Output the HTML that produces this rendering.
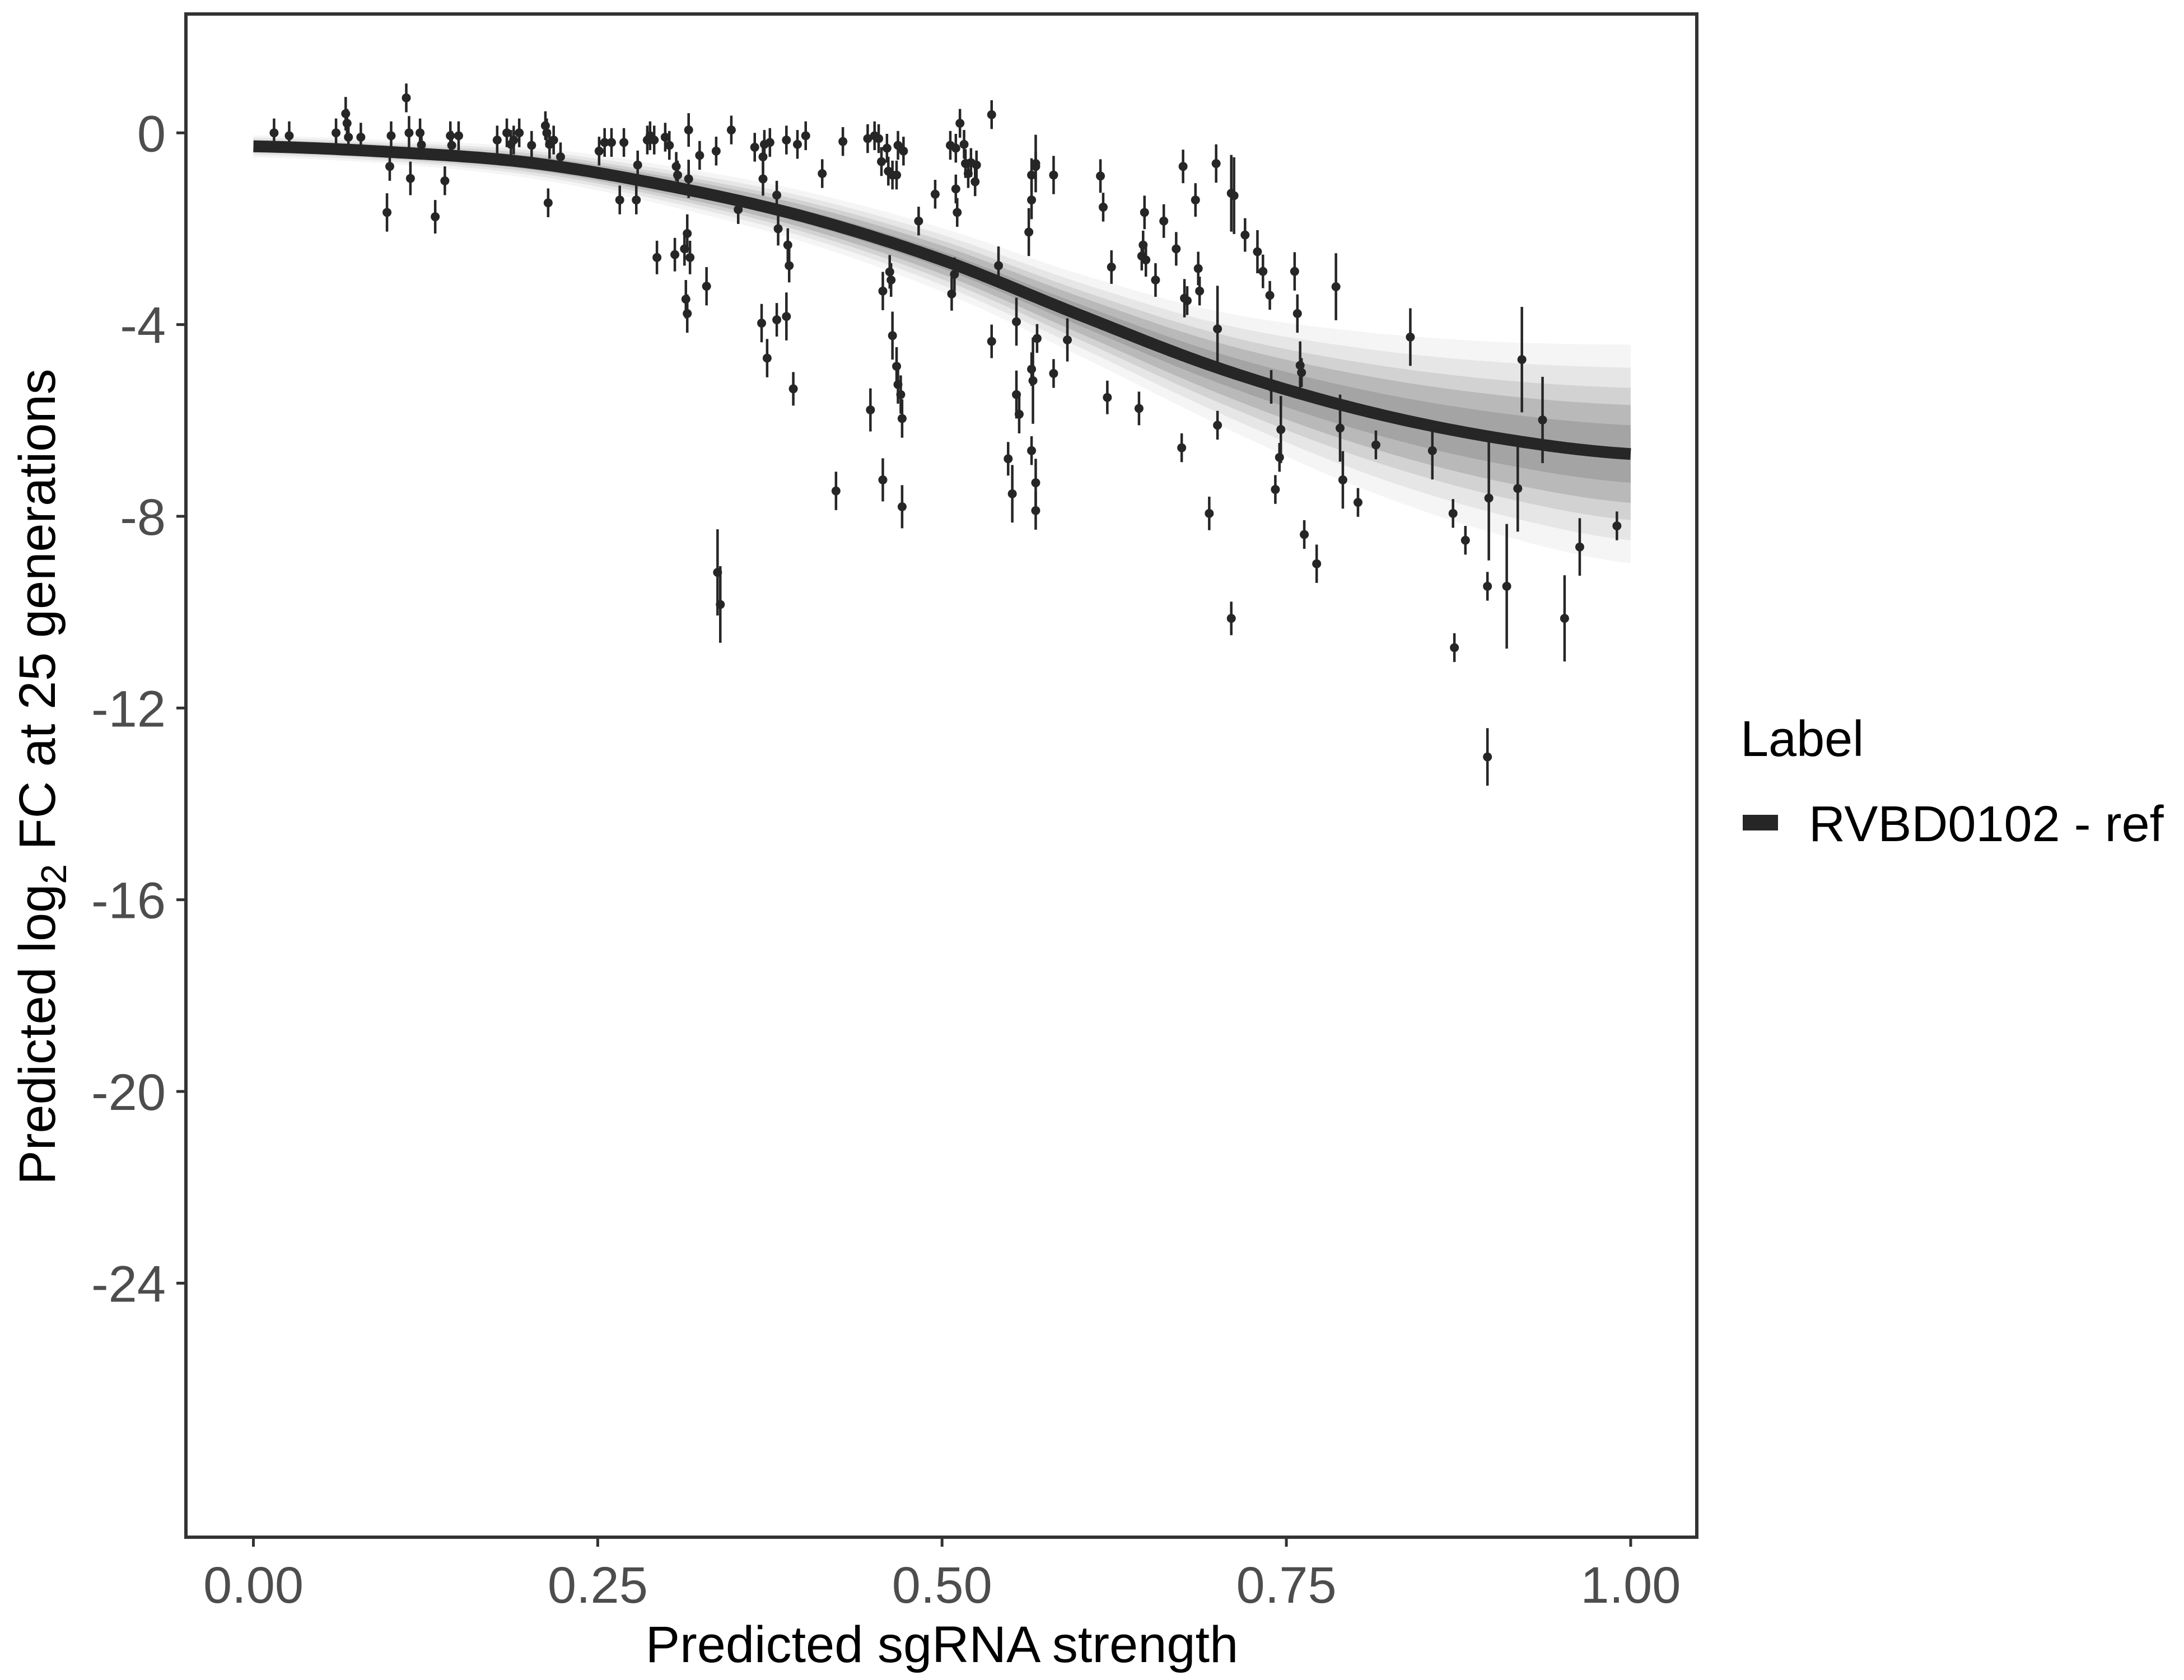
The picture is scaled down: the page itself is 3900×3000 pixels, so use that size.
<!DOCTYPE html>
<html><head><meta charset="utf-8"><style>
html,body{margin:0;padding:0;background:#fff;}
svg{display:block;font-family:"Liberation Sans",Arial,sans-serif;}
</style></head><body>
<svg id="chart" width="3900" height="3000" viewBox="0 0 3900 3000" xmlns="http://www.w3.org/2000/svg">
<rect x="0" y="0" width="3900" height="3000" fill="#fff"/>
<g id="band"></g>
<g id="points"></g>
<g id="curve"></g>
<rect x="332" y="25" width="2698" height="2720" fill="none" stroke="#333" stroke-width="6"/>
<g id="axes"></g>
<text x="1682" y="2968" font-size="92" text-anchor="middle" fill="#000">Predicted sgRNA strength</text>
<text transform="translate(98,1387) rotate(-90)" font-size="92" text-anchor="middle" fill="#000">Predicted  log<tspan font-size="64" dy="20">2</tspan><tspan dy="-20"> FC at 25 generations</tspan></text>
<text x="3108" y="1350" font-size="90" fill="#000">Label</text>
<rect x="3112" y="1455" width="63" height="28" fill="#262626"/>
<text x="3230" y="1502" font-size="90" fill="#000">RVBD0102 - ref</text>
</svg>
<script>
const xTicks=[0,0.25,0.5,0.75,1.0];
const xTickLabels=["0.00","0.25","0.50","0.75","1.00"];
const yTicks=[0,-4,-8,-12,-16,-20,-24];
const yTickLabels=["0","-4","-8","-12","-16","-20","-24"];
const curveX=[0,0.1,0.2,0.3,0.4,0.5,0.6,0.7,0.8,0.9,1.0];
const curveY=[-0.28,-0.4,-0.62,-1.1,-1.75,-2.65,-3.8,-4.9,-5.75,-6.35,-6.7];
const bandHalf=[0.12,0.13,0.17,0.22,0.28,0.35,0.45,0.62,0.85,1.05,1.2];
const ptX=[0.015,0.026,0.06,0.067,0.068,0.069,0.078,0.097,0.099,0.1,0.111,0.113,0.114,0.121,0.122,0.132,0.139,0.143,0.144,0.149,0.177,0.184,0.187,0.189,0.193,0.202,0.212,0.213,0.214,0.215,0.218,0.223,0.251,0.255,0.26,0.266,0.269,0.278,0.279,0.286,0.293,0.288,0.291,0.299,0.302,0.306,0.307,0.308,0.313,0.314,0.315,0.315,0.316,0.316,0.317,0.324,0.329,0.336,0.337,0.339,0.347,0.352,0.364,0.369,0.37,0.37,0.371,0.373,0.375,0.38,0.38,0.381,0.387,0.387,0.388,0.389,0.392,0.395,0.401,0.413,0.423,0.428,0.446,0.448,0.451,0.454,0.456,0.457,0.457,0.46,0.461,0.462,0.463,0.464,0.464,0.467,0.467,0.468,0.468,0.47,0.471,0.471,0.472,0.483,0.495,0.506,0.507,0.509,0.51,0.51,0.511,0.513,0.516,0.517,0.519,0.521,0.524,0.525,0.536,0.536,0.541,0.548,0.551,0.554,0.554,0.556,0.563,0.565,0.565,0.565,0.565,0.566,0.568,0.568,0.568,0.568,0.569,0.581,0.581,0.591,0.615,0.617,0.62,0.623,0.643,0.645,0.646,0.647,0.648,0.655,0.661,0.67,0.674,0.675,0.676,0.678,0.684,0.686,0.687,0.694,0.699,0.7,0.7,0.712,0.71,0.71,0.72,0.729,0.733,0.738,0.739,0.742,0.745,0.746,0.756,0.758,0.76,0.761,0.763,0.772,0.786,0.789,0.791,0.802,0.815,0.84,0.856,0.871,0.872,0.88,0.896,0.896,0.897,0.91,0.918,0.921,0.936,0.952,0.963,0.99];
const ptY=[0,-0.06,0,0.4,0.2,-0.09,-0.09,-1.66,-0.7,-0.06,0.73,0,-0.95,0,-0.25,-1.75,-1.0,-0.06,-0.26,-0.06,-0.15,0.0,-0.24,-0.15,0,-0.26,0.15,0.0,-1.46,-0.24,-0.15,-0.5,-0.38,-0.2,-0.2,-1.4,-0.2,-1.4,-0.67,-0.15,-2.6,-0.06,-0.15,-0.09,-0.26,-2.54,-0.7,-0.88,-2.42,-3.47,-2.1,-3.77,0.06,-0.96,-2.6,-0.47,-3.2,-0.38,-9.17,-9.84,0.06,-1.6,-0.3,-3.97,-0.96,-0.5,-0.24,-4.7,-0.2,-1.3,-3.9,-2.0,-0.15,-3.83,-2.34,-2.77,-5.34,-0.24,-0.06,-0.85,-7.47,-0.18,-0.12,-5.78,-0.06,-0.12,-0.6,-3.3,-7.24,-0.32,-0.8,-2.9,-3.07,-4.23,-0.88,-0.88,-4.87,-0.26,-5.25,-5.46,-5.96,-7.8,-0.38,-1.84,-1.28,-0.26,-3.36,-2.95,-1.17,-0.32,-1.66,0.2,-0.24,-0.64,-0.85,-0.62,-1.02,-0.67,0.38,-4.35,-2.77,-6.8,-7.53,-5.46,-3.94,-5.87,-2.07,-4.93,-1.4,-0.88,-6.63,-5.17,-7.88,-7.3,-0.64,-0.7,-4.29,-0.88,-5.02,-4.32,-0.9,-1.55,-5.52,-2.8,-5.75,-2.57,-2.34,-1.66,-2.65,-3.07,-1.84,-2.42,-6.57,-0.7,-3.45,-3.5,-1.4,-2.83,-3.3,-7.94,-0.64,-4.09,-6.1,-1.31,-1.26,-10.13,-2.13,-2.48,-2.89,-3.39,-5.3,-7.44,-6.77,-6.19,-2.89,-3.77,-4.85,-5.0,-8.38,-8.99,-3.21,-6.16,-7.24,-7.71,-6.51,-4.26,-6.63,-7.94,-10.74,-8.5,-9.46,-13.02,-7.62,-9.46,-7.42,-4.73,-5.99,-10.13,-8.64,-8.2];
const ptErr=[0.3,0.3,0.3,0.35,0.3,0.3,0.3,0.4,0.3,0.3,0.3,0.35,0.35,0.3,0.3,0.35,0.3,0.3,0.3,0.3,0.3,0.3,0.3,0.3,0.3,0.3,0.3,0.3,0.3,0.3,0.3,0.3,0.3,0.3,0.3,0.3,0.3,0.3,0.3,0.3,0.35,0.3,0.3,0.3,0.3,0.35,0.3,0.3,0.35,0.4,0.4,0.4,0.35,0.4,0.35,0.3,0.4,0.3,0.9,0.8,0.3,0.3,0.3,0.4,0.35,0.3,0.3,0.4,0.3,0.3,0.35,0.35,0.3,0.5,0.35,0.35,0.35,0.3,0.3,0.3,0.4,0.3,0.3,0.45,0.3,0.3,0.3,0.4,0.45,0.3,0.3,0.35,0.35,0.5,0.3,0.3,0.4,0.3,0.4,0.4,0.4,0.45,0.3,0.3,0.3,0.3,0.35,0.35,0.3,0.3,0.3,0.3,0.3,0.3,0.3,0.3,0.3,0.3,0.3,0.35,0.4,0.35,0.6,0.5,0.5,0.4,0.5,0.35,0.4,0.35,0.3,0.9,0.4,0.5,0.6,0.3,0.3,0.4,0.3,0.45,0.35,0.3,0.35,0.35,0.35,0.3,0.3,0.35,0.35,0.35,0.35,0.35,0.3,0.35,0.4,0.3,0.35,0.35,0.3,0.35,0.4,0.9,0.3,0.8,0.8,0.35,0.35,0.45,0.35,0.3,0.35,0.3,0.3,0.7,0.4,0.4,0.5,0.3,0.3,0.4,0.7,0.7,0.6,0.3,0.3,0.6,0.6,0.3,0.3,0.3,0.3,0.6,1.3,1.3,0.9,1.1,0.9,0.9,0.6,0.3,0.8,0.5,0.5,0.8];

const NS="http://www.w3.org/2000/svg";
const X0=-0.049,X1=1.048,PX0=332,PX1=3030;
const Y0=-29.3,Y1=2.48,PY0=2745,PY1=25;
function sx(v){return PX0+(v-X0)/(X1-X0)*(PX1-PX0);}
function sy(v){return PY0+(v-Y0)/(Y1-Y0)*(PY1-PY0);}
function mk(tag,attrs,parent){const e=document.createElementNS(NS,tag);for(const k in attrs)e.setAttribute(k,attrs[k]);parent.appendChild(e);return e;}
// Catmull-Rom interpolation through the arrays
function interp(arr,x){
  const n=curveX.length;
  let i=0;while(i<n-2&&x>curveX[i+1])i++;
  const t=(x-curveX[i])/(curveX[i+1]-curveX[i]);
  const p0=arr[Math.max(i-1,0)],p1=arr[i],p2=arr[i+1],p3=arr[Math.min(i+2,n-1)];
  const t2=t*t,t3=t2*t;
  return 0.5*((2*p1)+(-p0+p2)*t+(2*p0-5*p1+4*p2-p3)*t2+(-p0+3*p1-3*p2+p3)*t3);
}
const band=document.getElementById('band');
[[1.9,'#000',0.04],[1.5,'#000',0.06],[1.15,'#444',0.12],[0.85,'#555',0.2],[0.5,'#666',0.25]].forEach((cfg)=>{
  let up=[],dn=[];
  for(let i=0;i<=200;i++){const x=i/200;const c=interp(curveY,x),h=interp(bandHalf,x)*cfg[0];up.push(sx(x).toFixed(1)+','+sy(c+h).toFixed(1));dn.unshift(sx(x).toFixed(1)+','+sy(c-h).toFixed(1));}
  const p=mk('polygon',{points:up.concat(dn).join(' '),fill:cfg[1],'fill-opacity':cfg[2]},band);
  
  
});

const pts=document.getElementById('points');
for(let i=0;i<ptX.length;i++){
  const g=mk('g',{},pts);
  
  
  mk('line',{x1:sx(ptX[i]),x2:sx(ptX[i]),y1:sy(ptY[i]+ptErr[i]),y2:sy(ptY[i]-ptErr[i]),stroke:'#262626','stroke-width':4.5},g);
  mk('circle',{cx:sx(ptX[i]),cy:sy(ptY[i]),r:8,fill:'#262626'},g);
}

let d='';
for(let i=0;i<=300;i++){const x=i/300;d+=(i?'L':'M')+sx(x).toFixed(1)+','+sy(interp(curveY,x)).toFixed(1);}
const cv=mk('path',{d:d,fill:'none',stroke:'#262626','stroke-width':21,'stroke-linejoin':'round'},document.getElementById('curve'));



const ax=document.getElementById('axes');
xTicks.forEach((v,i)=>{
  const t=mk('line',{x1:sx(v),x2:sx(v),y1:2748,y2:2762,stroke:'#333','stroke-width':5},ax);
  
  
  const l=mk('text',{x:sx(v),y:2862,'font-size':92,'text-anchor':'middle',fill:'#4d4d4d'},ax);
  l.textContent=xTickLabels[i];
  
  
});
yTicks.forEach((v,i)=>{
  const t=mk('line',{x1:315,x2:329,y1:sy(v),y2:sy(v),stroke:'#333','stroke-width':5},ax);
  
  
  const l=mk('text',{x:296,y:sy(v)+33,'font-size':92,'text-anchor':'end',fill:'#4d4d4d'},ax);
  l.textContent=yTickLabels[i];
  
  
});
</script>
</body></html>
